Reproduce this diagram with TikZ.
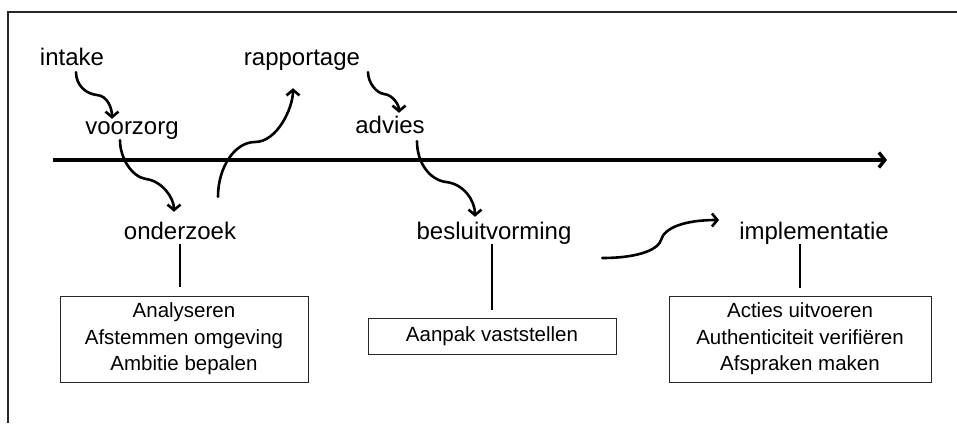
\documentclass[tikz,border=0pt]{standalone}
\usepackage{fontspec}
\setmainfont{Liberation Sans}
\usetikzlibrary{arrows.meta,calc}

\tikzset{
  phase/.style={inner sep=0pt, text height=0.75em, text depth=0.25em,
    font=\fontsize{24}{28}\selectfont},
  taskbox/.style={draw=black!85, line width=1pt, align=center, inner sep=0pt,
    font=\fontsize{20.5}{26.5}\selectfont},
  stem/.style={line width=1.4pt, shorten <=2pt},
  wavy/.style={line width=2.6pt, line cap=round,
    -{Straight Barb[length=5.5pt,width=13pt,line width=2.6pt]}},
  timeline/.style={line width=3.4pt,
    -{Straight Barb[length=6pt,width=15pt,line width=3.4pt]}},
  frame/.style={line width=1.4pt, draw=black!85}
}

\begin{document}
\begin{tikzpicture}[x=1pt,y=-1pt]
  \useasboundingbox (0,0) rectangle (957,423);

  % outer frame (top and left edges)
  \draw[frame] (8,423) -- (8,12) -- (957,12);

  % time axis
  \coordinate (tstart) at (53,160);
  \coordinate (tend) at (887,160);
  \draw[timeline] (tstart) -- (tend);

  % phase labels
  \node[phase] (intake)     at (72,63)   {intake};
  \node[phase] (voorzorg)   at (132,132) {voorzorg};
  \node[phase] (rapportage) at (302,63)  {rapportage};
  \node[phase] (advies)     at (390,131) {advies};
  \node[phase] (onderzoek)  at (180,237) {onderzoek};
  \node[phase] (besluit)    at (494,237) {besluitvorming};
  \node[phase] (impl)       at (814,237) {implementatie};

  % activity boxes
  \node[taskbox, minimum width=248pt, minimum height=86pt] (box1) at (184,339)
    {Analyseren\\Afstemmen omgeving\\Ambitie bepalen};
  \node[taskbox, minimum width=248pt, minimum height=36pt] (box2) at (492,336)
    {Aanpak vaststellen};
  \node[taskbox, minimum width=262pt, minimum height=86pt] (box3) at (800,339)
    {Acties uitvoeren\\Authenticiteit verifiëren\\Afspraken maken};

  % stems from phases to their boxes
  \draw[stem, shorten >=9pt] (onderzoek.south) -- (onderzoek.south |- box1.north);
  \draw[stem, shorten >=8pt] (besluit.south -| box2.north) -- (box2.north);
  \draw[stem, shorten >=8pt] (impl.south -| box3.north) -- (box3.north);

  % flow between phases
  \draw[wavy] ($(intake.south)+(4,4)$) .. controls +(0,13) and +(-11,-1) ..
    (97,95) .. controls +(11,1) and +(0,-10) .. ($(voorzorg.north)+(-20,-8)$);
  \draw[wavy] ($(voorzorg.south)+(-12,3)$) .. controls +(0,18) and +(-14,-2) ..
    (146,179) .. controls +(16,2) and +(0,-14) .. ($(onderzoek.north)+(-6,-20)$);
  \draw[wavy] ($(onderzoek.north)+(38,-35)$) .. controls +(0,-30) and +(-20,0) ..
    (255,142) .. controls +(22,0) and +(0,20) .. ($(rapportage.south)+(-9,20)$);
  \draw[wavy] ($(rapportage.south)+(66,4)$) .. controls +(0,10) and +(-8,-1) ..
    (384,94) .. controls +(9,1) and +(0,-8) .. ($(advies.north)+(9,-13)$);
  \draw[wavy] ($(advies.south)+(27,5)$) .. controls +(0,22) and +(-16,-2) ..
    (446,182) .. controls +(18,2) and +(0,-16) .. ($(besluit.north)+(-19,-15)$);
  \draw[wavy] ($(besluit.east)+(30.5,21)$) .. controls +(40,0) and +(-2,8) ..
    (661,240) .. controls +(3,-12) and +(-35,0) .. ($(impl.west)+(-20,-17)$);
\end{tikzpicture}
\end{document}
